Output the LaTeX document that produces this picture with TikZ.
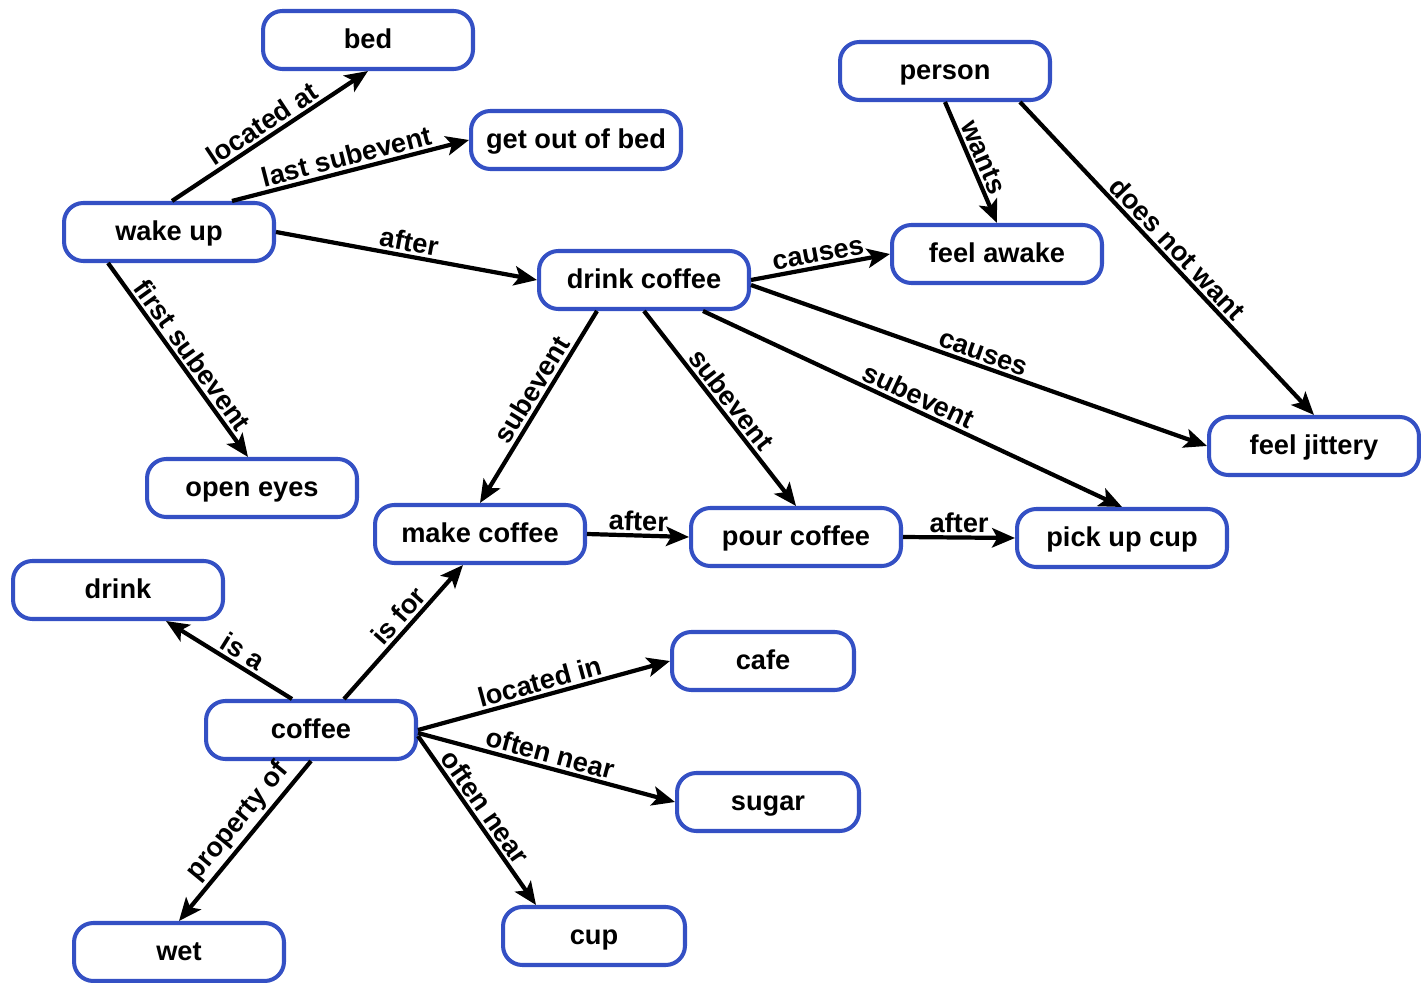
\documentclass[tikz,border=0pt]{standalone}
\usepackage{fontspec}
\setmainfont{Liberation Sans}
\usetikzlibrary{arrows.meta,calc}
\definecolor{boxblue}{RGB}{52,80,196}
\tikzset{
  concept/.style={draw=boxblue, line width=2.3pt, rounded corners=11pt, fill=white,
    minimum width=4.2cm, minimum height=1.16cm, inner sep=0pt,
    text height=11pt, text depth=1pt,
    font=\fontsize{15.5}{18}\selectfont\bfseries},
  small/.style={concept, minimum width=3.64cm},
  arr/.style={line width=2.4pt, -{Stealth[length=13pt,width=11pt,inset=3pt]}},
  lbl/.style={sloped, above, inner sep=1.5pt, font=\fontsize{15.5}{18}\selectfont\bfseries}
}
\begin{document}
\begin{tikzpicture}[x=0.02cm, y=-0.02cm]
\useasboundingbox (0,0) rectangle (1421,983);
% nodes
\node[concept] (bed) at (368,40) {bed};
\node[concept] (getout) at (576,140) {get out of bed};
\node[concept] (wake) at (169,232) {wake up};
\node[concept] (person) at (945,71) {person};
\node[concept] (awake) at (997,254) {feel awake};
\node[concept] (dc) at (644,280) {drink coffee};
\node[concept] (jit) at (1314,446) {feel jittery};
\node[concept] (open) at (252,488) {open eyes};
\node[concept] (make) at (480,534) {make coffee};
\node[concept] (pour) at (796,537) {pour coffee};
\node[concept] (pick) at (1122,538) {pick up cup};
\node[concept] (drink) at (118,590) {drink};
\node[small] (cafe) at (763,661) {cafe};
\node[concept] (coffee) at (311,730) {coffee};
\node[small] (sugar) at (768,802) {sugar};
\node[concept] (wet) at (179,952) {wet};
\node[small] (cup) at (594,936) {cup};
% edges
\draw[arr] ($(wake.north)+(3,0)$) -- node[lbl] {located at} (bed.south);
\draw[arr] ($(wake.north)+(63,0)$) -- node[lbl] {last subevent} (getout.west);
\draw[arr] (wake.east) -- node[lbl] {after} (dc.west);
\draw[arr] ($(wake.south)+(-61,0)$) -- node[lbl,pos=0.52] {first subevent} ($(open.north)+(-4,0)$);
\draw[arr] (dc.east) -- node[lbl] {causes} (awake.west);
\draw[arr] ($(dc.east)+(0,5)$) -- node[lbl] {causes} (jit.west);
\draw[arr] ($(dc.south)+(59,0)$) -- node[lbl,pos=0.5] {subevent} (pick.north);
\draw[arr] (dc.south) -- node[lbl,pos=0.5] {subevent} (pour.north);
\draw[arr] ($(dc.south)+(-47,0)$) -- node[lbl,pos=0.45] {subevent} (make.north);
\draw[arr] (make.east) -- node[lbl] {after} (pour.west);
\draw[arr] (pour.east) -- node[lbl] {after} (pick.west);
\draw[arr] (person.south) -- node[lbl,pos=0.5] {wants} (awake.north);
\draw[arr] ($(person.south)+(75,0)$) -- node[lbl,pos=0.5] {does not want} (jit.north);
\draw[arr] ($(coffee.north)+(-19,0)$) -- node[lbl,pos=0.45] {is a} ($(drink.south)+(48,0)$);
\draw[arr] ($(coffee.north)+(33,0)$) -- node[lbl,pos=0.55] {is for} ($(make.south)+(-17,0)$);
\draw[arr] (coffee.east) -- node[lbl] {located in} (cafe.west);
\draw[arr] ($(coffee.east)+(0,3)$) -- node[lbl] {often near} (sugar.west);
\draw[arr] ($(coffee.east)+(0,6)$) -- node[lbl,pos=0.47] {often near} ($(cup.north)+(-58,0)$);
\draw[arr] (coffee.south) -- node[lbl,pos=0.45] {property of} (wet.north);
\end{tikzpicture}
\end{document}
